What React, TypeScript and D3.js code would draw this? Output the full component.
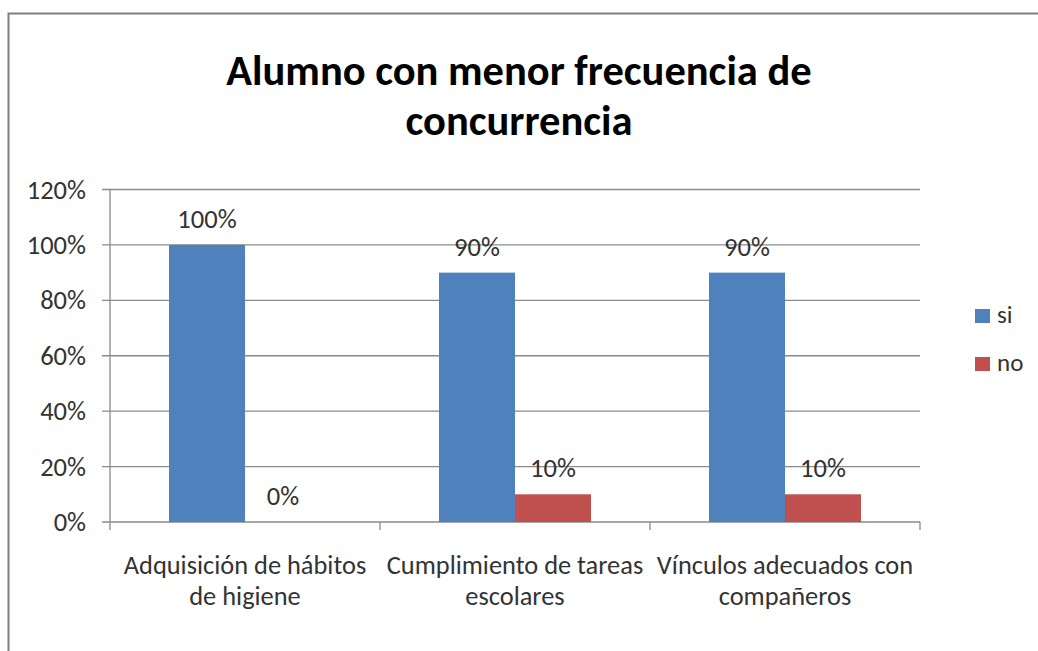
import React from "react";
import * as d3 from "d3";

const categories = [
  "Adquisición de hábitos de higiene",
  "Cumplimiento de tareas escolares",
  "Vínculos adecuados con compañeros",
];
const categoryLines = [
  ["Adquisición de hábitos", "de higiene"],
  ["Cumplimiento de tareas", "escolares"],
  ["Vínculos adecuados con", "compañeros"],
];
const seriesNames = ["si", "no"];
const siValues = [1.0, 0.9, 0.9];
const noValues = [0.0, 0.1, 0.1];
const yTicks = [0, 0.2, 0.4, 0.6, 0.8, 1.0, 1.2];
const titleLines = ["Alumno con menor frecuencia de", "concurrencia"];

const colors: Record<string, string> = { si: "#4F81BD", no: "#C0504D" };
const FONT = "Carlito, Calibri, 'Open Sans', sans-serif";
const TEXT = "#333333";
const GRID = "#8a8a8a";

export default function App() {
  const W = 1038;
  const H = 651;
  const left = 110;
  const right = 920;
  const y0 = 522;
  const yTop = 189.5;

  const x = d3.scaleBand<string>().domain(categories).range([left, right]).padding(0);
  const inner = d3
    .scaleBand<string>()
    .domain(seriesNames)
    .range([0, x.bandwidth()])
    .paddingInner(0)
    .paddingOuter(0.776);
  const y = d3.scaleLinear().domain([0, 1.2]).range([y0, yTop]);
  const fmt = d3.format(".0%");

  const data = categories.map((c, i) => ({ c, si: siValues[i], no: noValues[i] }));

  return (
    <div>
      <style>{`body{margin:0}`}</style>
      <svg width={W} height={H} style={{ display: "block", background: "#fff" }} fontFamily={FONT}>
        <rect x={8.5} y={13.5} width={1100} height={700} fill="#fff" stroke="#7f7f7f" strokeWidth={2} />
        {/* title */}
        {titleLines.map((t, i) => (
          <text
            key={t}
            x={519}
            y={85 + i * 50}
            textAnchor="middle"
            fontSize={42.5}
            fontWeight="bold"
            fill="#000"
          >
            {t}
          </text>
        ))}
        {/* gridlines & y ticks */}
        {yTicks.map((t) => (
          <g key={t}>
            <line x1={left - 8} x2={right} y1={y(t)} y2={y(t)} stroke={GRID} strokeWidth={1.3} />
            <text x={86} y={y(t) + 9} textAnchor="end" fontSize={26.5} fill={TEXT}>
              {fmt(t)}
            </text>
          </g>
        ))}
        {/* y axis */}
        <line x1={left} x2={left} y1={yTop} y2={y0} stroke={GRID} strokeWidth={1.3} />
        {/* x ticks */}
        {[...categories.map((c) => x(c) as number), right].map((px, i) => (
          <line key={i} x1={px} x2={px} y1={y0} y2={y0 + 8} stroke={GRID} strokeWidth={1.3} />
        ))}
        {/* bars */}
        {data.map((d) =>
          seriesNames.map((s) => {
            const v = (d as any)[s] as number;
            const bx = (x(d.c) as number) + (inner(s) as number);
            return (
              <g key={d.c + s}>
                <rect x={bx} y={y(v)} width={inner.bandwidth()} height={y0 - y(v)} fill={colors[s]} />
                <text
                  x={bx + inner.bandwidth() / 2}
                  y={y(v) - 17}
                  textAnchor="middle"
                  fontSize={26.5}
                  fill={TEXT}
                >
                  {fmt(v)}
                </text>
              </g>
            );
          })
        )}
        {/* category labels */}
        {categories.map((c, i) =>
          categoryLines[i].map((ln, j) => (
            <text
              key={c + j}
              x={(x(c) as number) + x.bandwidth() / 2}
              y={574 + j * 31}
              textAnchor="middle"
              fontSize={26.4}
              fill={TEXT}
            >
              {ln}
            </text>
          ))
        )}
        {/* legend */}
        {seriesNames.map((s, i) => (
          <g key={s}>
            <rect x={975} y={309 + i * 48} width={15} height={14} fill={colors[s]} />
            <text x={997} y={323 + i * 48} fontSize={25} fill={TEXT}>
              {s}
            </text>
          </g>
        ))}
      </svg>
    </div>
  );
}
